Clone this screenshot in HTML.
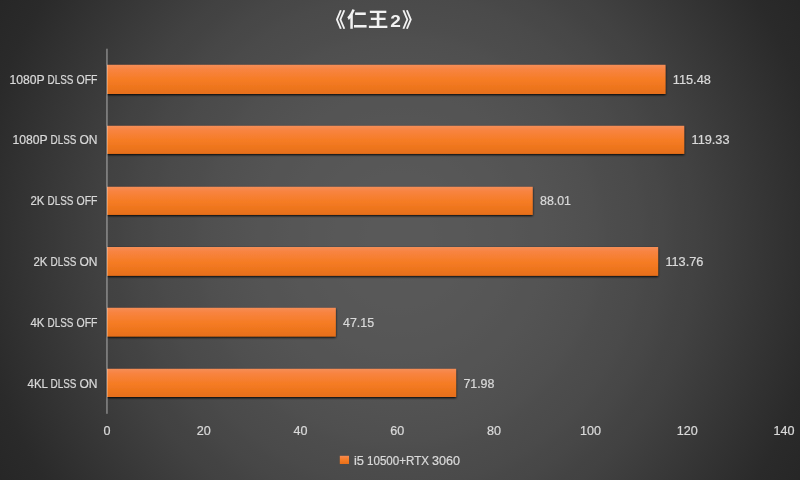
<!DOCTYPE html>
<html lang="zh"><head><meta charset="utf-8"><title>仁王2</title>
<style>
html,body{margin:0;padding:0;background:#262626;}
body{width:800px;height:480px;overflow:hidden;}
svg{display:block;}
text{font-family:"Liberation Sans","Noto Sans CJK SC",sans-serif;font-size:12px;fill:#d9d9d9;stroke:#d9d9d9;stroke-width:0.22px;}
.t{font-family:"Liberation Sans","Noto Sans CJK SC",sans-serif;font-weight:bold;font-size:20.2px;fill:#f2f2f2;stroke:none;}
</style></head><body>
<svg width="800" height="480" viewBox="0 0 800 480">
<defs>
<radialGradient id="bg" cx="0" cy="0" r="1" gradientUnits="userSpaceOnUse" gradientTransform="translate(400 240) scale(480.7 493)">
<stop offset="0.0000" stop-color="#595959"/><stop offset="0.0227" stop-color="#595959"/><stop offset="0.0455" stop-color="#595959"/><stop offset="0.0682" stop-color="#595959"/><stop offset="0.0909" stop-color="#585858"/><stop offset="0.1136" stop-color="#585858"/><stop offset="0.1364" stop-color="#585858"/><stop offset="0.1591" stop-color="#575757"/><stop offset="0.1818" stop-color="#575757"/><stop offset="0.2045" stop-color="#565656"/><stop offset="0.2273" stop-color="#565656"/><stop offset="0.2500" stop-color="#555555"/><stop offset="0.2727" stop-color="#545454"/><stop offset="0.2955" stop-color="#545454"/><stop offset="0.3182" stop-color="#535353"/><stop offset="0.3409" stop-color="#525252"/><stop offset="0.3636" stop-color="#515151"/><stop offset="0.3864" stop-color="#505050"/><stop offset="0.4091" stop-color="#4f4f4f"/><stop offset="0.4318" stop-color="#4d4d4d"/><stop offset="0.4545" stop-color="#4c4c4c"/><stop offset="0.4773" stop-color="#4b4b4b"/><stop offset="0.5000" stop-color="#4a4a4a"/><stop offset="0.5227" stop-color="#484848"/><stop offset="0.5455" stop-color="#474747"/><stop offset="0.5682" stop-color="#454545"/><stop offset="0.5909" stop-color="#434343"/><stop offset="0.6136" stop-color="#424242"/><stop offset="0.6364" stop-color="#404040"/><stop offset="0.6591" stop-color="#3e3e3e"/><stop offset="0.6818" stop-color="#3c3c3c"/><stop offset="0.7045" stop-color="#3a3a3a"/><stop offset="0.7273" stop-color="#383838"/><stop offset="0.7500" stop-color="#363636"/><stop offset="0.7727" stop-color="#343434"/><stop offset="0.7955" stop-color="#323232"/><stop offset="0.8182" stop-color="#303030"/><stop offset="0.8409" stop-color="#2e2e2e"/><stop offset="0.8636" stop-color="#2c2c2c"/><stop offset="0.8864" stop-color="#2a2a2a"/><stop offset="0.9091" stop-color="#292929"/><stop offset="0.9318" stop-color="#282828"/><stop offset="0.9545" stop-color="#272727"/><stop offset="0.9773" stop-color="#262626"/><stop offset="1.0000" stop-color="#262626"/>
</radialGradient>
<linearGradient id="bar" x1="0" y1="0" x2="0" y2="1">
<stop offset="0" stop-color="#f58e57"/><stop offset="0.15" stop-color="#f88442"/><stop offset="0.55" stop-color="#f57b22"/><stop offset="1" stop-color="#e66f1a"/>
</linearGradient>
<filter id="sh" x="-5%" y="-40%" width="110%" height="200%">
<feGaussianBlur in="SourceAlpha" stdDeviation="1.1"/><feOffset dx="0" dy="1.3"/>
<feComponentTransfer><feFuncA type="linear" slope="1"/></feComponentTransfer>
<feMerge><feMergeNode/><feMergeNode in="SourceGraphic"/></feMerge>
</filter>
</defs>
<rect x="0" y="0" width="800" height="480" fill="url(#bg)"/>
<rect x="107.0" y="64.80" width="558.50" height="29.20" fill="url(#bar)" filter="url(#sh)"/>
<text y="84.00"><tspan x="9.50" textLength="35" lengthAdjust="spacingAndGlyphs">1080P</tspan> <tspan x="47.50" textLength="26" lengthAdjust="spacingAndGlyphs">DLSS</tspan> <tspan x="76.50" textLength="21" lengthAdjust="spacingAndGlyphs">OFF</tspan></text>
<text y="84.00"><tspan x="672.80" textLength="38" lengthAdjust="spacingAndGlyphs">115.48</tspan></text>
<rect x="107.0" y="125.80" width="577.20" height="28.10" fill="url(#bar)" filter="url(#sh)"/>
<text y="144.00"><tspan x="12.50" textLength="35" lengthAdjust="spacingAndGlyphs">1080P</tspan> <tspan x="50.50" textLength="26" lengthAdjust="spacingAndGlyphs">DLSS</tspan> <tspan x="79.50" textLength="18" lengthAdjust="spacingAndGlyphs">ON</tspan></text>
<text y="144.00"><tspan x="691.50" textLength="38" lengthAdjust="spacingAndGlyphs">119.33</tspan></text>
<rect x="107.0" y="186.80" width="425.70" height="28.10" fill="url(#bar)" filter="url(#sh)"/>
<text y="205.00"><tspan x="30.50" textLength="14" lengthAdjust="spacingAndGlyphs">2K</tspan> <tspan x="47.50" textLength="26" lengthAdjust="spacingAndGlyphs">DLSS</tspan> <tspan x="76.50" textLength="21" lengthAdjust="spacingAndGlyphs">OFF</tspan></text>
<text y="205.00"><tspan x="540.00" textLength="31" lengthAdjust="spacingAndGlyphs">88.01</tspan></text>
<rect x="107.0" y="247.00" width="551.10" height="28.80" fill="url(#bar)" filter="url(#sh)"/>
<text y="266.00"><tspan x="33.50" textLength="14" lengthAdjust="spacingAndGlyphs">2K</tspan> <tspan x="50.50" textLength="26" lengthAdjust="spacingAndGlyphs">DLSS</tspan> <tspan x="79.50" textLength="18" lengthAdjust="spacingAndGlyphs">ON</tspan></text>
<text y="266.00"><tspan x="665.40" textLength="38" lengthAdjust="spacingAndGlyphs">113.76</tspan></text>
<rect x="107.0" y="307.80" width="228.80" height="28.70" fill="url(#bar)" filter="url(#sh)"/>
<text y="327.00"><tspan x="30.50" textLength="14" lengthAdjust="spacingAndGlyphs">4K</tspan> <tspan x="47.50" textLength="26" lengthAdjust="spacingAndGlyphs">DLSS</tspan> <tspan x="76.50" textLength="21" lengthAdjust="spacingAndGlyphs">OFF</tspan></text>
<text y="327.00"><tspan x="343.10" textLength="31" lengthAdjust="spacingAndGlyphs">47.15</tspan></text>
<rect x="107.0" y="368.80" width="349.10" height="28.20" fill="url(#bar)" filter="url(#sh)"/>
<text y="388.00"><tspan x="27.50" textLength="20" lengthAdjust="spacingAndGlyphs">4KL</tspan> <tspan x="50.50" textLength="26" lengthAdjust="spacingAndGlyphs">DLSS</tspan> <tspan x="79.50" textLength="18" lengthAdjust="spacingAndGlyphs">ON</tspan></text>
<text y="388.00"><tspan x="463.40" textLength="31" lengthAdjust="spacingAndGlyphs">71.98</tspan></text>
<rect x="106.2" y="48.7" width="1.5" height="365.1" fill="#f2f2f2" fill-opacity="0.42"/>
<text y="435.00"><tspan x="103.50" textLength="7" lengthAdjust="spacingAndGlyphs">0</tspan></text>
<text y="435.00"><tspan x="196.73" textLength="14" lengthAdjust="spacingAndGlyphs">20</tspan></text>
<text y="435.00"><tspan x="293.46" textLength="14" lengthAdjust="spacingAndGlyphs">40</tspan></text>
<text y="435.00"><tspan x="390.18" textLength="14" lengthAdjust="spacingAndGlyphs">60</tspan></text>
<text y="435.00"><tspan x="486.91" textLength="14" lengthAdjust="spacingAndGlyphs">80</tspan></text>
<text y="435.00"><tspan x="580.14" textLength="21" lengthAdjust="spacingAndGlyphs">100</tspan></text>
<text y="435.00"><tspan x="676.87" textLength="21" lengthAdjust="spacingAndGlyphs">120</tspan></text>
<text y="435.00"><tspan x="773.60" textLength="21" lengthAdjust="spacingAndGlyphs">140</tspan></text>
<rect x="339.8" y="455.8" width="9.2" height="8.2" fill="url(#bar)"/>
<text y="464.50"><tspan x="354.00" textLength="10" lengthAdjust="spacingAndGlyphs">i5</tspan> <tspan x="367.00" textLength="62" lengthAdjust="spacingAndGlyphs">10500+RTX</tspan> <tspan x="432.00" textLength="28" lengthAdjust="spacingAndGlyphs">3060</tspan></text>
<text class="t" y="27.4"><tspan x="325.5">《</tspan><tspan x="347">仁</tspan><tspan x="368">王</tspan><tspan x="390.2" font-size="17px" dy="-0.9" textLength="10.6" lengthAdjust="spacingAndGlyphs">2</tspan><tspan x="402" dy="0.9">》</tspan></text>
</svg></body></html>
